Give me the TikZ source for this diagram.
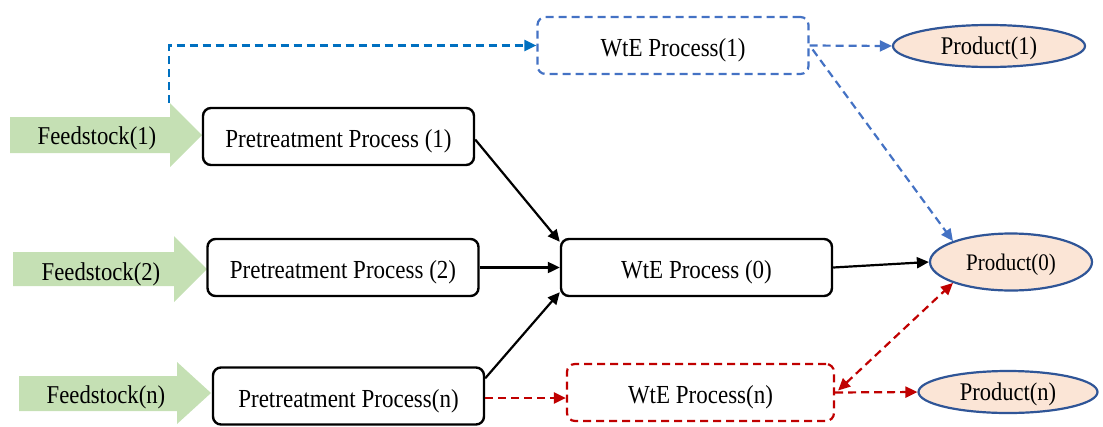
\documentclass[tikz,border=0pt]{standalone}
\usepackage{fontspec}
\usepackage{graphicx}
\setmainfont{Liberation Serif}
\usetikzlibrary{arrows.meta,shapes.geometric,calc}
\definecolor{feedgreen}{HTML}{C5E0B4}
\definecolor{peach}{HTML}{FBE5D6}
\definecolor{ellblue}{HTML}{2F5597}
\definecolor{lblue}{HTML}{4472C4}
\definecolor{dblue}{HTML}{0070C0}
\definecolor{dred}{HTML}{C00000}
\newcommand{\vstretch}[1]{\scalebox{1}[1.13]{#1}}
\tikzset{
  boxtext/.style={text height=25pt, text depth=3pt},
  txt/.style={font=\fontsize{22.7}{26}\selectfont, inner sep=0pt, boxtext},
  procbox/.style={draw=black, line width=2.4pt, rounded corners=8pt, minimum width=271pt, minimum height=57pt, font=\fontsize{23}{26}\selectfont, inner sep=0pt, boxtext},
  wtebox/.style={procbox, line width=2.2pt, dash pattern=on 8pt off 5pt},
  prod/.style={ellipse, draw=ellblue, fill=peach, line width=2.2pt, inner sep=0pt, font=\fontsize{22.5}{26}\selectfont, text height=19pt, text depth=3pt},
  feed/.style={fill=feedgreen},
  conn/.style={line width=2.2pt, -{Triangle[length=12pt,width=11pt]}},
  dconn/.style={conn, dash pattern=on 8pt off 5pt},
}
\begin{document}
\begin{tikzpicture}[x=1pt,y=-1pt]
\useasboundingbox (0,0) rectangle (1103,426);
% feedstock arrows
\fill[feed] (10,117) -- (170,117) -- (170,103) -- (202,135) -- (170,167) -- (170,153) -- (10,153) -- cycle;
\node[txt] (f1) at (97,133) {\vstretch{Feedstock(1)}};
\fill[feed] (13,252) -- (174,252) -- (174,236) -- (207,269) -- (174,302) -- (174,286) -- (13,286) -- cycle;
\node[txt] (f2) at (101,269.5) {\vstretch{Feedstock(2)}};
\fill[feed] (19,376) -- (177,376) -- (177,362) -- (211,393) -- (177,424) -- (177,411) -- (19,411) -- cycle;
\node[txt] (fn) at (106,392.5) {\vstretch{Feedstock(n)}};
\coordinate (f1top) at (169,103);
% pretreatment
\node[procbox] (p1) at (338.5,136.5) {\vstretch{Pretreatment Process (1)}};
\node[procbox] (p2) at (343,267.5) {\vstretch{Pretreatment Process (2)}};
\node[procbox] (pn) at (348.5,396) {\vstretch{Pretreatment Process(n)}};
% WtE
\node[wtebox, draw=lblue] (w1) at (673,45.5) {\vstretch{WtE Process(1)}};
\node[procbox] (w0) at (696.5,267.5) {\vstretch{WtE Process (0)}};
\node[wtebox, draw=dred, minimum width=267pt] (wn) at (700.5,392.5) {\vstretch{WtE Process(n)}};
% products
\node[prod, minimum width=192pt, minimum height=42pt] (r1) at (989,46) {\vstretch{Product(1)}};
\node[prod, minimum width=162pt, minimum height=57pt, font=\fontsize{21}{24}\selectfont] (r0) at (1011,262) {\vstretch{Product(0)}};
\node[prod, minimum width=179pt, minimum height=42pt] (rn) at (1008,392) {\vstretch{Product(n)}};
% connectors
\draw[dconn, draw=dblue] (f1top) |- (w1.west);
\draw[dconn, draw=lblue] (w1.east) -- (r1.west);
\draw[dconn, draw=lblue] ($(w1.east)+(3,4)$) -- (r0.north west);
\draw[conn] ($(p1.east)+(0,3)$) -- ($(w0.north west)+(0,4)$);
\draw[conn] (p2.east) -- (w0.west);
\draw[conn] ($(pn.north east)+(0,12)$) -- ($(w0.south west)+(0,-5)$);
\draw[conn] (w0.east) -- (r0.west);
\draw[dconn, draw=dred] ($(pn.east)+(0,2)$) -- ($(wn.west)+(0,5.5)$);
\draw[dconn, draw=dred, {Triangle[length=12pt,width=11pt]}-{Triangle[length=12pt,width=11pt]}] ($(wn.east)+(3,-2)$) -- (r0.south west);
\draw[dconn, draw=dred] (wn.east) -- (rn.west);
\end{tikzpicture}
\end{document}
